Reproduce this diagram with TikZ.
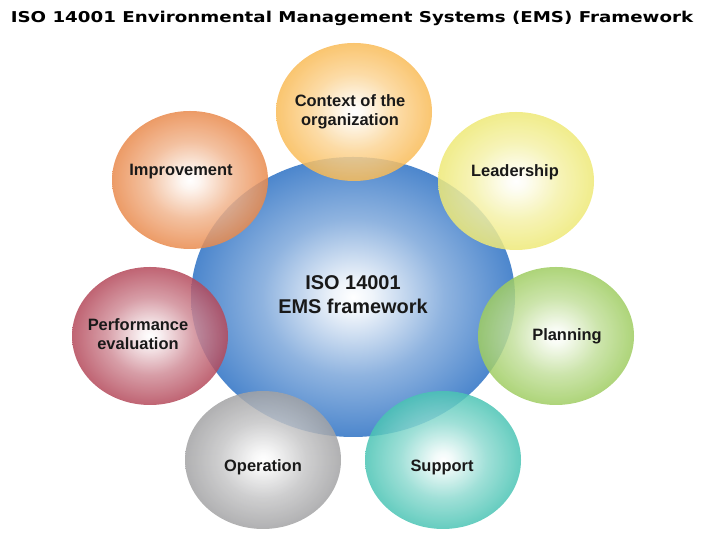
\documentclass[tikz,border=0pt]{standalone}
\usepackage{fontspec}
\setmainfont{Liberation Sans}
\newfontfamily\titlefont{DejaVu Sans}
\usepackage{graphicx}
\usepackage{xcolor}
\definecolor{emsblue}{RGB}{52,118,198}
\definecolor{ctxorange}{RGB}{248,178,64}
\definecolor{leadyellow}{RGB}{236,230,100}
\definecolor{plangreen}{RGB}{146,198,76}
\definecolor{supteal}{RGB}{50,188,170}
\definecolor{opgrey}{RGB}{150,150,152}
\definecolor{perfred}{RGB}{170,48,68}
\definecolor{imporange}{RGB}{230,122,52}
\colorlet{bubble}{emsblue}
\pgfdeclareradialshading[bubble]{glow}{\pgfpointorigin}{color(0bp)=(white); color(3bp)=(white!92!bubble); color(14bp)=(bubble!55!white); color(25bp)=(bubble!88!white); color(33bp)=(bubble!95!black); color(50bp)=(bubble!95!black)}

\begin{document}
\begin{tikzpicture}[x=1bp,y=1bp,
		label/.style={font=\bfseries\fontsize{16.5}{19}\selectfont,align=center,text=black!90},
		core/.style={font=\bfseries\fontsize{20}{24}\selectfont,align=center,text=black!90}]
		\useasboundingbox (0,0) rectangle (720,540);
		% title
		\node (title) at (352,522) {\scalebox{1.22}[1]{\titlefont\bfseries\fontsize{15}{17}\selectfont ISO 14001 Environmental Management Systems (EMS) Framework}};
		% centre
		\colorlet{bubble}{emsblue}
		\path[shading=glow] (353,243) ellipse [x radius=162,y radius=140];
		\node[core] (ems) at (353,245) {ISO 14001\\EMS framework};
		% outer bubbles
		\foreach \cx/\cy/\col/\tx/\ty/\name/\txt in {
				354/428/ctxorange/350/428/ctx/{Context of the\\organization},
				516/359/leadyellow/515/368/lead/Leadership,
				556/204/plangreen/567/204/plan/Planning,
				443/80/supteal/442/73/sup/Support,
				263/80/opgrey/263/73/op/Operation,
				150/204/perfred/138/206/perf/{Performance\\evaluation},
				190/360/imporange/181/368/imp/Improvement} {
				\colorlet{bubble}{\col}
				\path[shading=glow,fill opacity=0.85] (\cx,\cy) ellipse [x radius=78,y radius=69];
				\node[label] (\name) at (\tx,\ty) {\txt};
			}
	\end{tikzpicture}
\end{document}
